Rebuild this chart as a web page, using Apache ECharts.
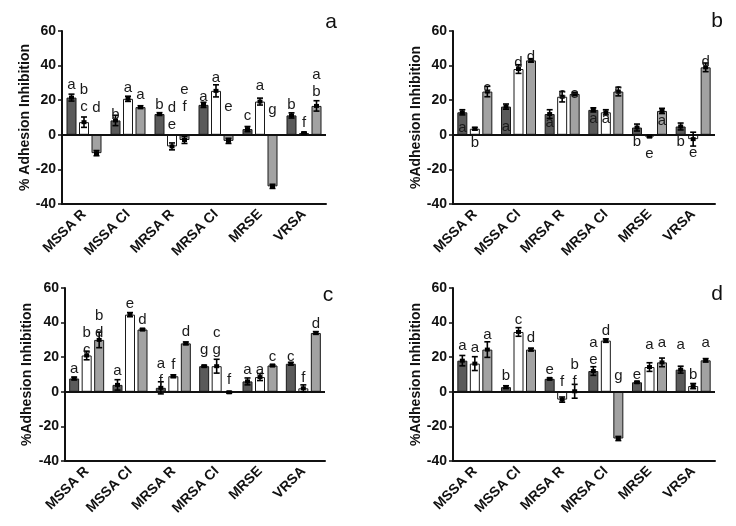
<!DOCTYPE html>
<html><head><meta charset="utf-8">
<script src="https://cdn.jsdelivr.net/npm/echarts@6/dist/echarts.min.js"></script>
<style>html,body{margin:0;padding:0;background:#fff}#c{width:736px;height:526px}</style>
</head><body><div id="c"></div>
<script>
const categories = ['MSSA R','MSSA CI','MRSA R','MRSA CI','MRSE','VRSA'];
const yMin = -40, yMax = 60, yStep = 20;
const panelTitles = ['a','b','c','d'];
const yAxisNames = ['% Adhesion Inhibition','%Adhesion Inhibition','%Adhesion Inhibition','%Adhesion Inhibition'];

// ---- panel a ----
const aDark  = [21.5, 8.3, 12, 17.3, 3.3, 11.2];
const aWhite = [7.3, 20.8, -6.7, 25.4, 19.2, 1];
const aLight = [-10.6, 16, -3, -3.5, -29.8, 16.7];
const aDarkErr  = [2, 3, 0.8, 1.5, 1.5, 1.5];
const aWhiteErr = [3, 1.5, 2, 3.5, 2, 0.5];
const aLightErr = [1.5, 0.8, 2, 1.5, 1.2, 3];
const aDarkLetters  = ['a','b','b','a','c','b'];
const aWhiteLetters = ['b\nc','a','d\ne','a','a','f'];
const aLightLetters = ['d','a','e\nf','e','g','a\nb'];
const aDarkLetterAt  = [28.8, 11.5, 17.3, 22, 11, 17.3];
const aWhiteLetterAt = [16, 27, 5.8, 32.7, 28.3, 6.7];
const aLightLetterAt = [15.4, 23, 16, 16, 14.4, 25];

// ---- panel b ----
const bDark  = [13, 16.3, 12, 14.4, 4.2, 4.8];
const bWhite = [3.5, 38, 22, 13, -1, -2.5];
const bLight = [25, 43, 23.6, 25, 13.8, 39];
const bDarkErr  = [1.5, 1.5, 2.5, 1.2, 2, 2];
const bWhiteErr = [0.8, 2.5, 3, 1.5, 0.5, 4];
const bLightErr = [3, 1, 1, 2.5, 1.5, 2.5];
const bDarkLetters  = ['a','a','a','a','b','b'];
const bWhiteLetters = ['b','d','c','a','e','e'];
const bLightLetters = ['c','d','e','c','a','d'];
const bDarkLetterAt  = [3.8, 4.4, 6.7, 9, -3.8, -3.8];
const bWhiteLetterAt = [-4.4, 41.7, 23.5, 9, -11, -10.6];
const bLightLetterAt = [27, 44.8, 23.5, 26, 8.3, 42.3];

// ---- panel c ----
const cDark  = [7.7, 4, 2.3, 14.8, 6, 16.2];
const cWhite = [21, 44.6, 9, 14.8, 8.5, 2];
const cLight = [30, 36, 28, -0.3, 15.2, 34];
const cDarkErr  = [0.8, 3, 3.5, 0.5, 2, 0.8];
const cWhiteErr = [2.5, 1.2, 0.8, 4, 2, 2];
const cLightErr = [4.5, 0.5, 0.8, 0.5, 0.5, 0.8];
const cDarkLetters  = ['a','a','a\nf','g','a','c'];
const cWhiteLetters = ['b\nc','e','f','c\ng','a','f'];
const cLightLetters = ['b\nd','d','d','f','c','d'];
const cDarkLetterAt  = [13.3, 12, 6.2, 24, 12.5, 20];
const cWhiteLetterAt = [24, 50.8, 15.8, 24, 12.5, 8];
const cLightLetterAt = [34, 41.3, 34.4, 7.1, 20, 39.2];

// ---- panel d ----
const dDark  = [18, 2.7, 7.5, 12, 5.5, 12.8];
const dWhite = [16.3, 34.6, -4.5, 29.6, 14.3, 3.3];
const dLight = [24.4, 24.4, 0.3, -27, 17, 18.2];
const dDarkErr  = [3, 0.8, 0.5, 2.5, 0.5, 2];
const dWhiteErr = [4, 2.5, 1.5, 1, 2.5, 1.5];
const dLightErr = [4.5, 0.8, 4, 1.2, 2.5, 1];
const dDarkLetters  = ['a','b','e','a\ne','e','a'];
const dWhiteLetters = ['a','c','f','d','a','b'];
const dLightLetters = ['a','d','b\nf','g','a','a'];
const dDarkLetterAt  = [26.3, 9, 12.9, 18.6, 10, 27.3];
const dWhiteLetterAt = [25.4, 41.3, 5.8, 35, 27.3, 9.6];
const dLightLetterAt = [33, 31.2, 5.8, 9.4, 28.3, 28.3];

const panels = [
  {vals:[aDark,aWhite,aLight], errs:[aDarkErr,aWhiteErr,aLightErr], letters:[aDarkLetters,aWhiteLetters,aLightLetters], at:[aDarkLetterAt,aWhiteLetterAt,aLightLetterAt]},
  {vals:[bDark,bWhite,bLight], errs:[bDarkErr,bWhiteErr,bLightErr], letters:[bDarkLetters,bWhiteLetters,bLightLetters], at:[bDarkLetterAt,bWhiteLetterAt,bLightLetterAt]},
  {vals:[cDark,cWhite,cLight], errs:[cDarkErr,cWhiteErr,cLightErr], letters:[cDarkLetters,cWhiteLetters,cLightLetters], at:[cDarkLetterAt,cWhiteLetterAt,cLightLetterAt]},
  {vals:[dDark,dWhite,dLight], errs:[dDarkErr,dWhiteErr,dLightErr], letters:[dDarkLetters,dWhiteLetters,dLightLetters], at:[dDarkLetterAt,dWhiteLetterAt,dLightLetterAt]}
];

// layout (style only)
const gridBoxes = [
  {left:62, top:31, width:264, height:173, nameGap:28, title:[331,22]},
  {left:453, top:31, width:262, height:173, nameGap:29, title:[717,21]},
  {left:65, top:288, width:260, height:173, nameGap:31, title:[328,295]},
  {left:453, top:288, width:262, height:173, nameGap:29, title:[717,294]}
];
const fills = ['#5a5a5a', '#ffffff', '#a2a2a2'];
const BAR_W = 10, BAR_STEP = 12.5;
const FONT = 'Liberation Sans, Arial, Helvetica, sans-serif';

const option = {animation:false, grid:[], xAxis:[], yAxis:[], series:[], graphic:[]};

panels.forEach((p, i) => {
  const g = gridBoxes[i];
  option.grid.push({left:g.left, top:g.top, width:g.width, height:g.height, containLabel:false});
  option.xAxis.push({
    type:'category', gridIndex:i, data:categories,
    axisLine:{onZero:false, lineStyle:{color:'#111', width:2}},
    axisTick:{alignWithLabel:true, length:5, lineStyle:{color:'#111', width:1.5}},
    axisLabel:{interval:0, rotate:45, margin:8, color:'#111', fontWeight:'bold', fontSize:14, fontFamily:FONT}
  });
  option.yAxis.push({
    type:'value', gridIndex:i, min:yMin, max:yMax, interval:yStep,
    axisLine:{show:true, lineStyle:{color:'#111', width:2}},
    axisTick:{show:true, length:4, lineStyle:{color:'#111', width:1.5}},
    splitLine:{show:false},
    axisLabel:{margin:6, color:'#111', fontWeight:'bold', fontSize:14, fontFamily:FONT},
    name:yAxisNames[i], nameLocation:'middle', nameGap:g.nameGap,
    nameTextStyle:{color:'#111', fontWeight:'bold', fontSize:14, fontFamily:FONT}
  });
  p.vals.forEach((arr, s) => {
    const ser = {
      type:'bar', xAxisIndex:i, yAxisIndex:i, data:arr,
      barWidth:BAR_W, barGap:'25%',
      itemStyle:{color:fills[s], borderColor:'#1a1a1a', borderWidth:1},
      z:2
    };
    if (s === 0) {
      ser.markLine = {silent:true, symbol:'none', label:{show:false},
        lineStyle:{color:'#111', width:2, type:'solid'}, data:[{yAxis:0}]};
    }
    option.series.push(ser);
  });
  const items = [];
  p.vals.forEach((arr, s) => arr.forEach((v, k) => {
    items.push({cat:k, s:s, v:v, e:p.errs[s][k], letter:p.letters[s][k], at:p.at[s][k]});
  }));
  option.series.push({
    type:'custom', xAxisIndex:i, yAxisIndex:i, z:5,
    data: items.map(it => [it.cat, it.v]),
    encode:{x:0, y:1},
    renderItem: (params, api) => {
      const it = items[params.dataIndex];
      const x = api.coord([it.cat, 0])[0] + (it.s - 1) * BAR_STEP;
      const yT = api.coord([it.cat, it.v + it.e])[1];
      const yB = api.coord([it.cat, it.v - it.e])[1];
      const yM = api.coord([it.cat, it.v])[1];
      const yL = api.coord([it.cat, it.at])[1];
      const st = {stroke:'#000', lineWidth:1.6};
      return {type:'group', children:[
        {type:'line', shape:{x1:x, y1:yT, x2:x, y2:yB}, style:st},
        {type:'line', shape:{x1:x-3, y1:yT, x2:x+3, y2:yT}, style:st},
        {type:'line', shape:{x1:x-3, y1:yB, x2:x+3, y2:yB}, style:st},
        {type:'rect', shape:{x:x-2.5, y:yM-2, width:5, height:4}, style:{fill:'#000'}},
        {type:'text', x:x, y:yL + 8.5, style:{text:it.letter, fill:'#1a1a1a', font:'15px ' + FONT,
          textAlign:'center', textVerticalAlign:'bottom', lineHeight:17}}
      ]};
    }
  });
  option.graphic.push({type:'text', x:g.title[0], y:g.title[1],
    style:{text:panelTitles[i], font:'21px ' + FONT, fill:'#111', textAlign:'center', textVerticalAlign:'middle'}});
});

const chart = echarts.init(document.getElementById('c'), null, {renderer:'canvas'});
chart.setOption(option);
</script>
</body></html>
